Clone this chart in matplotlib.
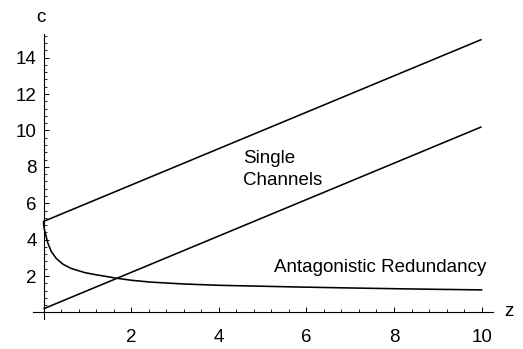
import numpy as np
import matplotlib
matplotlib.use("Agg")
import matplotlib.pyplot as plt
from matplotlib.ticker import FixedLocator

plt.rcParams['font.family'] = ['Liberation Sans', 'DejaVu Sans']

# Single channel lines
z_line = [0, 10]
c_single_upper = [5.0, 15.0]
c_single_lower = [0.2, 10.2]

# Antagonistic redundancy curve
z_curve = [0.0, 0.004, 0.015, 0.041, 0.10, 0.18, 0.29, 0.45, 0.63, 0.94, 1.20, 1.40, 1.67,
           2.00, 2.43, 3.19, 4.03, 5.00, 5.86, 7.00, 8.14, 9.00, 10.0]
c_curve = [5.0, 4.82, 4.62, 4.35, 3.80, 3.34, 2.97, 2.64, 2.42, 2.19, 2.07, 1.99, 1.88,
           1.77, 1.67, 1.565, 1.49, 1.44, 1.395, 1.345, 1.30, 1.27, 1.24]

x_major = [2, 4, 6, 8, 10]
y_major = [2, 4, 6, 8, 10, 12, 14]

W, H = 523, 349
fig = plt.figure(figsize=(W / 100, H / 100), dpi=100)
ax = fig.add_axes([33 / W, 1 - 319 / H, 460 / W, 285 / H])
ax.set_xlim(-0.24, 10.26)
ax.set_ylim(-0.36, 15.3)

lw = 1.15
ax.plot(z_line, c_single_upper, color='black', lw=lw, solid_capstyle='butt')
ax.plot(z_line, c_single_lower, color='black', lw=lw, solid_capstyle='butt')
ax.plot(z_curve, c_curve, color='black', lw=lw)

for s in ['top', 'right']:
    ax.spines[s].set_visible(False)
ax.spines['left'].set_position(('data', 0))
ax.spines['bottom'].set_position(('data', 0))
for s in ['left', 'bottom']:
    ax.spines[s].set_linewidth(0.8)

ax.xaxis.set_major_locator(FixedLocator(x_major))
ax.yaxis.set_major_locator(FixedLocator(y_major))
xminor = [round(0.4 * i, 2) for i in range(1, 26) if round(0.4 * i, 2) not in x_major]
yminor = [round(0.4 * i, 2) for i in range(1, 39) if round(0.4 * i, 2) not in y_major]
ax.xaxis.set_minor_locator(FixedLocator(xminor))
ax.yaxis.set_minor_locator(FixedLocator(yminor))
ax.tick_params(which='major', direction='in', length=3.5, width=0.7, labelsize=13.5, color='black')
ax.tick_params(which='minor', direction='in', length=2, width=0.6, color='black')
ax.tick_params(axis='x', pad=12)
ax.tick_params(axis='y', pad=5)

ax.text(4.56, 8.19, 'Single', fontsize=13.5, ha='left', va='baseline')
ax.text(4.56, 7.0, 'Channels', fontsize=13.5, ha='left', va='baseline')
ax.text(5.25, 2.24, 'Antagonistic Redundancy', fontsize=13.5, ha='left', va='baseline')

fig.text(41 / W, 1 - 17 / H, 'c', fontsize=13.5, ha='center', va='center')
fig.text(509 / W, 1 - 311 / H, 'z', fontsize=13.5, ha='center', va='center')

fig.savefig('out.png', dpi=100)
